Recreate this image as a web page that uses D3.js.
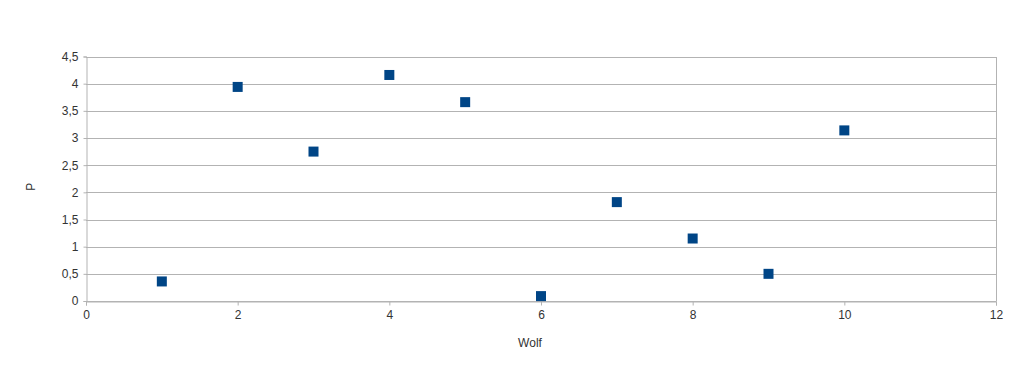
<!DOCTYPE html>
<html><head><meta charset="utf-8">
<script src="https://cdn.jsdelivr.net/npm/d3@7"></script>
<style>body{margin:0;background:#fff}svg{display:block}text{font-family:"Liberation Sans",Arial,sans-serif;font-size:12px;fill:#333}</style>
</head><body><svg id="c" width="1024" height="369"></svg>
<script>
const xValues=[1,2,3,4,5,6,7,8,9,10];
const pValues=[0.36,3.94,2.75,4.16,3.66,0.09,1.82,1.15,0.50,3.14];
const xTicks=[0,2,4,6,8,10,12];
const yTicks=[0,0.5,1,1.5,2,2.5,3,3.5,4,4.5];
const xTitle="Wolf", yTitle="P";
const svg=d3.select("#c");
const L=86,R=996,T=56.5,B=301;
const x=d3.scaleLinear().domain([0,12]).range([L,R]);
const y=d3.scaleLinear().domain([0,4.5]).range([B,T]);
const fmt=d=>String(d).replace(".",",");
// grid
svg.append("g").selectAll("line").data(yTicks).join("line")
 .attr("x1",L).attr("x2",R).attr("y1",d=>Math.round(y(d))+0.5).attr("y2",d=>Math.round(y(d))+0.5)
 .attr("stroke","#b3b3b3");
svg.append("line").attr("x1",R+0.5).attr("x2",R+0.5).attr("y1",Math.round(T)).attr("y2",B+0.5).attr("stroke","#b3b3b3");
// y axis
const ya=svg.append("g").attr("transform",`translate(${L+0.5},0)`).call(d3.axisLeft(y).tickValues(yTicks).tickFormat(fmt).tickSize(3).tickPadding(5));
ya.select(".domain").attr("stroke","#b3b3b3");
ya.selectAll(".tick line").attr("stroke","#b3b3b3");
ya.selectAll(".tick text").style("font-size","12px").attr("fill","#333");
// x axis
const xa=svg.append("g").attr("transform",`translate(0,${B+0.5})`).call(d3.axisBottom(x).tickValues(xTicks).tickFormat(fmt).tickSize(4).tickPadding(5));
xa.select(".domain").attr("stroke","#b3b3b3");
xa.selectAll(".tick line").attr("stroke","#b3b3b3");
xa.selectAll(".tick text").style("font-size","12px").attr("fill","#333");
// points
svg.append("g").selectAll("rect").data(xValues).join("rect")
 .attr("x",(d)=>x(d)-5).attr("y",(d,i)=>y(pValues[i])-5).attr("width",10).attr("height",10).attr("fill","#004586");
// titles
svg.append("text").attr("x",(L+R)/2-11).attr("y",347).attr("text-anchor","middle").text(xTitle);
svg.append("text").attr("transform",`translate(35,${(T+B)/2+8}) rotate(-90)`).attr("text-anchor","middle").text(yTitle);
</script></body></html>
